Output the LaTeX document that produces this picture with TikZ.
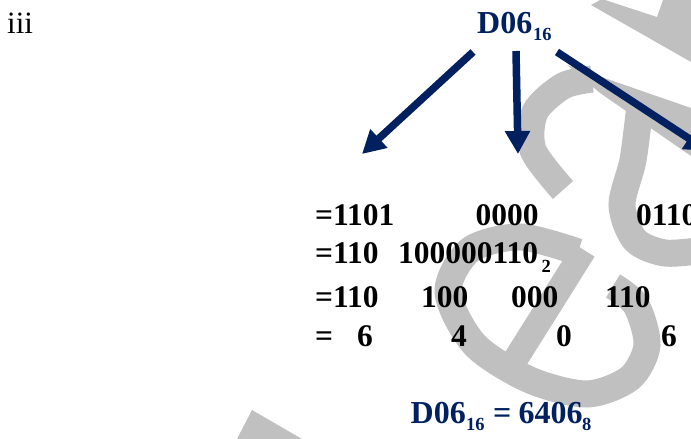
\documentclass[tikz,border=0pt]{standalone}
\usepackage{fontspec}
\setmainfont{Liberation Serif}
\usetikzlibrary{arrows.meta}
\definecolor{navy}{HTML}{002060}
\definecolor{wm}{HTML}{C0C0C0}
\begin{document}
\begin{tikzpicture}[x=1pt,y=-1pt,
  row/.style={anchor=base west,inner sep=0pt,font=\fontsize{31.5}{36}\selectfont\bfseries},
  big/.style={anchor=base west,inner sep=0pt,font=\fontsize{32}{37}\selectfont\bfseries,text=navy},
  subs/.style={anchor=base west,inner sep=0pt,font=\fontsize{18.5}{20}\selectfont\bfseries},
  wmark/.style={draw=wm,line width=27pt},
  conv/.style={draw=navy,line width=7.5pt,-{Triangle[length=23pt,width=24pt]}}]
\useasboundingbox (0,0) rectangle (691,439);
% watermark
\fill[wm] (591,5) -- (600,0) -- (605,0) -- (657,17) -- (663,0) -- (691,0) -- (691,62) -- cycle;
\fill[wm] (252,410) -- (237,439) -- (302,439) -- cycle;
\fill[wm] (567,65) -- (691,108) -- (691,156) -- (600,93) -- cycle;
\draw[wmark] plot[smooth] coordinates {(563,190) (533,150) (535,112) (563,86) (592,79)};
\draw[wmark] plot[smooth] coordinates {(640,105) (633,160) (622,205) (635,240) (665,253) (705,250)};
\draw[wmark] plot[smooth] coordinates {(578,252) (520,237) (470,250) (448,292) (475,345) (530,380) (587,394) (630,378) (647,345) (636,305) (613,286)};
\draw[wmark,line width=25pt] (584,250) -- (510,368);
% text
\node[anchor=base west,inner sep=0pt,font=\fontsize{31}{37}\selectfont] (lbl) at (7,33) {iii};
\node[big] (src) at (477,33.3) {D06};
\node[subs,text=navy] (srcs) at (533,40.3) {16};
\node[row] (r1a) at (315,225) {=1101};
\node[row] (r1b) at (475.5,225) {0000};
\node[row] (r1c) at (636,225) {0110};
\node[row] (r2a) at (315,263) {=110};
\node[row] (r2b) at (398,263) {100000110};
\node[subs] (r2s) at (541.5,272) {2};
\node[row] (r3a) at (315,307) {=110};
\node[row] (r3b) at (421,307) {100};
\node[row] (r3c) at (511,307) {000};
\node[row] (r3d) at (605,307) {110};
\node[row] (r4a) at (315,346) {=};
\node[row] (r4b) at (357,346) {6};
\node[row] (r4c) at (451,346) {4};
\node[row] (r4d) at (556,346) {0};
\node[row] (r4e) at (661,346) {6};
\node[big] (b1) at (410.5,423.3) {D06};
\node[subs,text=navy] (b1s) at (466,430) {16};
\node[big] (b2) at (493,423.3) {=};
\node[big] (b3) at (518.5,423.3) {6406};
\node[subs,text=navy] (b3s) at (582,430) {8};
% arrows
\coordinate (a1s) at (473,52);
\coordinate (a1e) at (362,154);
\coordinate (a2s) at (516,51);
\coordinate (a2e) at (518,154);
\coordinate (a3s) at (557,52);
\coordinate (a3e) at (708,151);
\draw[conv] (a1s) -- (a1e);
\draw[conv] (a2s) -- (a2e);
\draw[conv] (a3s) -- (a3e);
\end{tikzpicture}
\end{document}
